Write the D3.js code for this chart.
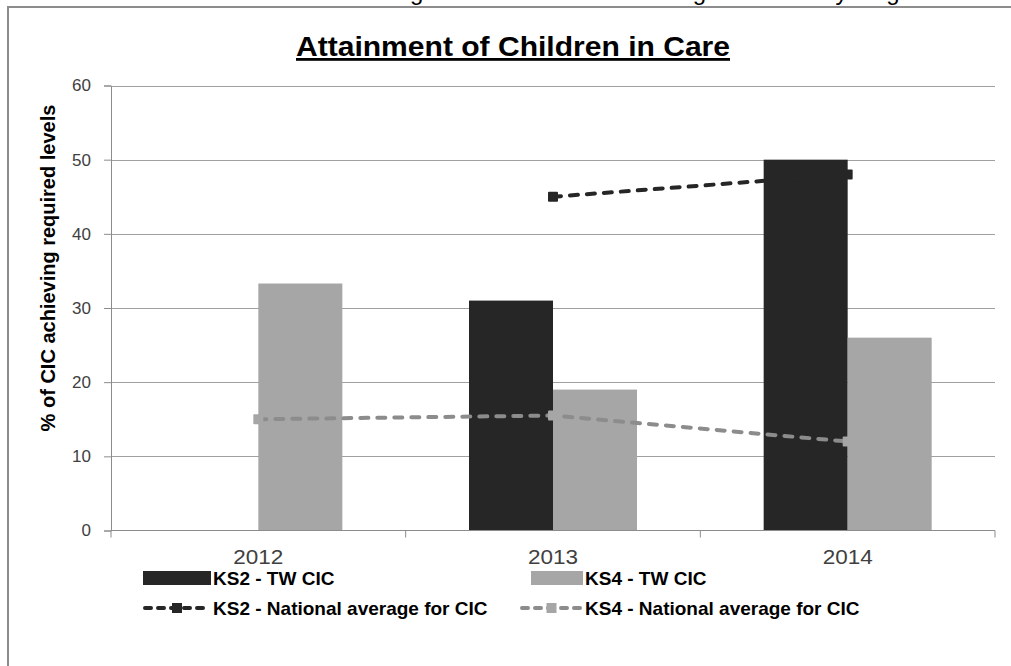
<!DOCTYPE html>
<html>
<head>
<meta charset="utf-8" />
<title>Attainment of Children in Care</title>
<style type="text/css">
body { margin: 0; background: #fff; }
svg { display: block; }
.grid line { stroke: #a0a0a0; stroke-width: 1px; }
.axis path, .axis line { stroke: #8c8c8c; }
.axis text { fill: #404040; }
</style>
<script src="https://cdn.jsdelivr.net/npm/d3@7"></script>
</head>
<body>
<svg width="1011" height="666"></svg>
<script type="text/javascript">

// chart data
var years = ["2012", "2013", "2014"];
var seriesNames = ["KS2 - TW CIC", "KS4 - TW CIC"];
var ks2TW = [null, 31, 50];
var ks4TW = [33.3, 19, 26];
var lineNames = ["KS2 - National average for CIC", "KS4 - National average for CIC"];
var ks2Nat = [null, 45, 48];
var ks4Nat = [15, 15.5, 12];
var yTicks = [0, 10, 20, 30, 40, 50, 60];

// plot box (note: "top" is reserved on window, so use other names)
var svg = d3.select("svg"),
    plotL = 111, plotR = 995, plotT = 85.5, plotB = 530.5;

var sans = "'Liberation Sans', Arial, sans-serif";

// cut off text from the page above
svg.append("text")
  .attr("x", 925).attr("y", 0)
  .attr("text-anchor", "end")
  .attr("font-family", sans)
  .attr("font-size", 24)
  .attr("fill", "#000")
  .text("are achieving above the national average at both Key stages");

// frame
svg.append("rect")
  .attr("x", 8).attr("y", 7)
  .attr("width", 1100).attr("height", 700)
  .attr("fill", "#fff")
  .attr("stroke", "#8c8c8c")
  .attr("stroke-width", 2);

var x0 = d3.scaleBand().domain(years).range([plotL, plotR]).padding(0);
var x1 = d3.scaleBand().domain(seriesNames).range([0, x0.bandwidth()])
           .paddingInner(0).paddingOuter(0.754);
var y = d3.scaleLinear().domain([0, 60]).range([plotB, plotT]);

// title
svg.append("text")
  .attr("x", 513).attr("y", 56)
  .attr("text-anchor", "middle")
  .attr("font-family", sans)
  .attr("font-weight", "bold")
  .attr("font-size", 28)
  .attr("textLength", 434)
  .attr("lengthAdjust", "spacingAndGlyphs")
  .attr("text-decoration", "underline")
  .attr("fill", "#000")
  .text("Attainment of Children in Care");

// gridlines
svg.append("g")
  .attr("class", "grid")
  .selectAll("line")
  .data(yTicks.slice(1))
  .enter().append("line")
  .attr("x1", plotL).attr("x2", plotR)
  .attr("y1", function(d) { return Math.round(y(d)) + 0.5; })
  .attr("y2", function(d) { return Math.round(y(d)) + 0.5; });

// bars
var barData = [];
years.forEach(function(yr, i) {
  barData.push({year: yr, s: seriesNames[0], v: ks2TW[i], c: "#262626"});
  barData.push({year: yr, s: seriesNames[1], v: ks4TW[i], c: "#a6a6a6"});
});
svg.append("g").selectAll("rect")
  .data(barData.filter(function(d) { return d.v != null; }))
  .enter().append("rect")
  .attr("x", function(d) { return x0(d.year) + x1(d.s); })
  .attr("width", x1.bandwidth())
  .attr("y", function(d) { return y(d.v); })
  .attr("height", function(d) { return y(0) - y(d.v); })
  .attr("fill", function(d) { return d.c; });

// axes
var yAxis = svg.append("g")
  .attr("class", "axis")
  .attr("transform", "translate(" + plotL + ",0)")
  .call(d3.axisLeft(y).tickValues(yTicks).tickSize(7).tickPadding(13));
yAxis.selectAll("text")
  .attr("font-family", sans)
  .attr("font-size", 17);

var xAxis = svg.append("g")
  .attr("class", "axis")
  .attr("transform", "translate(0," + plotB + ")")
  .call(d3.axisBottom(x0).tickSize(0).tickPadding(19));
xAxis.select(".domain").attr("d", "M" + plotL + ",0H" + plotR);
xAxis.selectAll("text")
  .attr("font-family", sans)
  .attr("font-size", 20)
  .attr("textLength", 50)
  .attr("lengthAdjust", "spacingAndGlyphs")
  .attr("fill", "#000");
// boundary ticks between categories
xAxis.selectAll(".bound")
  .data(years.concat(["end"]))
  .enter().append("line")
  .attr("class", "bound")
  .attr("x1", function(d, i) { return i < years.length ? x0(d) : plotR; })
  .attr("x2", function(d, i) { return i < years.length ? x0(d) : plotR; })
  .attr("y1", 0).attr("y2", 7);

// y axis title
svg.append("text")
  .attr("transform", "translate(48,268) rotate(-90)")
  .attr("dy", "0.35em")
  .attr("text-anchor", "middle")
  .attr("font-family", sans)
  .attr("font-weight", "bold")
  .attr("font-size", 20)
  .attr("fill", "#000")
  .text("% of CIC achieving required levels");

// national average lines
var lines = [
  {name: lineNames[0], vals: ks2Nat, stroke: "#262626", marker: "#262626"},
  {name: lineNames[1], vals: ks4Nat, stroke: "#8c8c8c", marker: "#a6a6a6"}
];
var cx = function(i) { return x0(years[i]) + x0.bandwidth() / 2; };
var line = d3.line()
  .defined(function(d) { return d != null; })
  .x(function(d, i) { return cx(i); })
  .y(function(d) { return y(d); });

lines.forEach(function(l) {
  var g = svg.append("g");
  g.append("path")
    .attr("d", line(l.vals))
    .attr("fill", "none")
    .attr("stroke", l.stroke)
    .attr("stroke-width", 4)
    .attr("stroke-linecap", "round")
    .attr("stroke-dasharray", "8,9");
  g.selectAll("rect")
    .data(l.vals.map(function(v, i) { return {v: v, i: i}; })
               .filter(function(d) { return d.v != null; }))
    .enter().append("rect")
    .attr("x", function(d) { return cx(d.i) - 5; })
    .attr("y", function(d) { return y(d.v) - 5; })
    .attr("width", 10).attr("height", 10)
    .attr("rx", 1)
    .attr("fill", l.marker);
});

// legend
var legend = svg.append("g")
  .attr("font-family", sans)
  .attr("font-weight", "bold")
  .attr("font-size", 19)
  .attr("fill", "#000");

var barLegend = [
  {name: seriesNames[0], c: "#262626", x: 143, w: 68},
  {name: seriesNames[1], c: "#a6a6a6", x: 531, w: 52}
];
barLegend.forEach(function(d) {
  legend.append("rect")
    .attr("x", d.x).attr("y", 571)
    .attr("width", d.w).attr("height", 14)
    .attr("fill", d.c);
  legend.append("text")
    .attr("x", d.x + d.w + 2).attr("y", 585)
    .text(d.name);
});

var lineLegend = [
  {l: lines[0], x: 143, w: 68},
  {l: lines[1], x: 520, w: 63}
];
lineLegend.forEach(function(d) {
  legend.append("line")
    .attr("x1", d.x + 2).attr("x2", d.x + d.w - 2)
    .attr("y1", 608).attr("y2", 608)
    .attr("stroke", d.l.stroke)
    .attr("stroke-width", 4)
    .attr("stroke-linecap", "round")
    .attr("stroke-dasharray", "6,7");
  legend.append("rect")
    .attr("x", d.x + d.w / 2 - 5).attr("y", 603)
    .attr("width", 10).attr("height", 10)
    .attr("fill", d.l.marker);
  legend.append("text")
    .attr("x", d.x + d.w + 2).attr("y", 615)
    .text(d.l.name);
});

</script>
</body>
</html>
